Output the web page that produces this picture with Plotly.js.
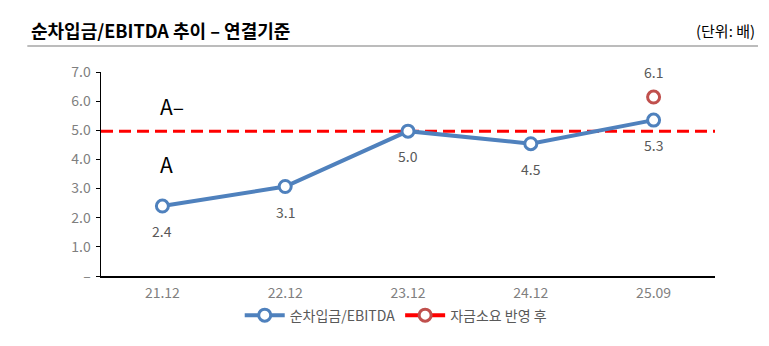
<!DOCTYPE html>
<html><head><meta charset="utf-8">
<script src="https://cdn.plot.ly/plotly-3.0.1.min.js"></script>
<style>body{margin:0;background:#fff}#c{width:769px;height:346px}</style>
</head><body><div id="c"></div>
<script>
const categories = ['21.12','22.12','23.12','24.12','25.09'];
const ratio = [2.4, 3.07, 4.97, 4.54, 5.35];
const ratioLabels = ['2.4','3.1','5.0','4.5','5.3'];
const afterCat = ['25.09'];
const afterVal = [6.14];
const afterLabels = ['6.1'];
const threshold = 4.97;
const yTicks = [0,1,2,3,4,5,6,7];
const yTickText = ['–','1.0','2.0','3.0','4.0','5.0','6.0','7.0'];
const FONT = '"Noto Sans CJK KR", "Noto Sans", sans-serif';

const traces = [
  {x: categories, y: ratio, name: '순차입금/EBITDA', type: 'scatter', mode: 'lines+markers',
   line: {color: '#4f81bd', width: 4},
   marker: {size: 12, color: '#ffffff', line: {color: '#4f81bd', width: 3}}, cliponaxis: false},
  {x: afterCat, y: afterVal, name: '자금소요 반영 후', type: 'scatter', mode: 'lines+markers',
   line: {color: '#ff0000', width: 4},
   marker: {size: 12, color: '#ffffff', line: {color: '#c0504d', width: 3}}, cliponaxis: false}
];

const labelAnns = [];
categories.forEach((c, i) => labelAnns.push({xref: 'x', yref: 'y', x: i, y: ratio[i], yshift: -25,
  showarrow: false, text: ratioLabels[i], font: {size: 14, color: '#595959', family: FONT}}));
afterCat.forEach((c, i) => labelAnns.push({xref: 'x', yref: 'y', x: categories.indexOf(c), y: afterVal[i], yshift: 25,
  showarrow: false, text: afterLabels[i], font: {size: 14, color: '#595959', family: FONT}}));

const layout = {
  width: 769, height: 346,
  margin: {l: 101, r: 54, t: 72, b: 70, autoexpand: false},
  paper_bgcolor: '#fff', plot_bgcolor: '#fff',
  font: {family: FONT, color: '#595959'},
  showlegend: true,
  legend: {orientation: 'h', x: 0.48, xanchor: 'center', yref: 'container', y: 0.088, yanchor: 'middle',
           font: {size: 14, color: '#595959', family: FONT}, itemwidth: 40, tracegroupgap: 0},
  xaxis: {type: 'category', categoryorder: 'array', categoryarray: categories, range: [-0.5, 4.5],
          showline: true, linecolor: '#000', linewidth: 1.5, showgrid: false, tickangle: 0, automargin: false,
          ticks: '', ticklabelstandoff: 4, tickfont: {size: 14, color: '#7f7f7f', family: FONT}, zeroline: false},
  yaxis: {range: [0, 7], tickvals: yTicks, ticktext: yTickText, showline: true, linecolor: '#000', linewidth: 1.5,
          showgrid: false, zeroline: false, ticks: 'outside', ticklen: 4, tickcolor: '#000', automargin: false,
          ticklabelstandoff: 2, tickfont: {size: 14, color: '#7f7f7f', family: FONT}},
  shapes: [
    {type: 'line', xref: 'paper', x0: 0, x1: 1, yref: 'y', y0: threshold, y1: threshold,
     line: {color: '#ff0000', width: 3, dash: '12px,6px'}, layer: 'below'},
    {type: 'line', xref: 'paper', yref: 'paper', x0: -0.12, x1: 1.07, y0: 1.128, y1: 1.128,
     line: {color: '#a6a6a6', width: 1.5}}
  ],
  annotations: [
    {xref: 'paper', yref: 'paper', x: -0.117, y: 1.205, xanchor: 'left', yanchor: 'middle', showarrow: false,
     text: '<b>순차입금/EBITDA 추이 – 연결기준</b>', font: {size: 18, color: '#000', family: FONT}},
    {xref: 'paper', yref: 'paper', x: 1.068, y: 1.205, xanchor: 'right', yanchor: 'middle', showarrow: false,
     text: '(단위: 배)', font: {size: 15, color: '#000', family: FONT}},
    {xref: 'x', yref: 'y', x: 0, y: 5.85, showarrow: false, xanchor: 'left', xshift: -4,
     text: 'A–', font: {size: 21, color: '#000', family: FONT}},
    {xref: 'x', yref: 'y', x: 0, y: 3.85, showarrow: false, xanchor: 'left', xshift: -4,
     text: 'A', font: {size: 21, color: '#000', family: FONT}}
  ].concat(labelAnns)
};
Plotly.newPlot('c', traces, layout, {displayModeBar: false, staticPlot: true});
</script></body></html>
